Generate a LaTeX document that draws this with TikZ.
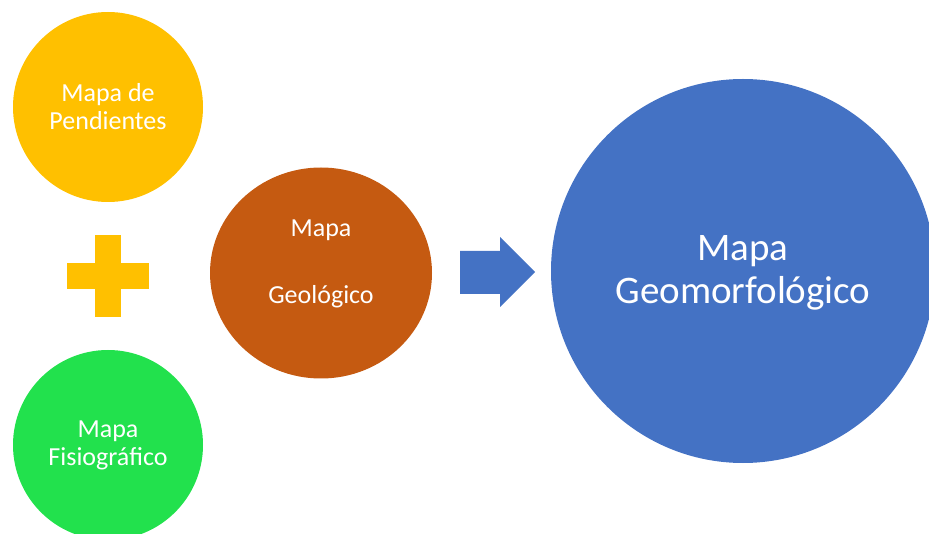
\documentclass[tikz,border=0pt]{standalone}
\usepackage{fontspec}
\setmainfont{Carlito}
\usetikzlibrary{shapes.geometric}
\definecolor{cyellow}{HTML}{FFC000}
\definecolor{cgreen}{HTML}{22E14D}
\definecolor{cbrown}{HTML}{C55A11}
\definecolor{cblue}{HTML}{4472C4}
\begin{document}
\begin{tikzpicture}[x=1pt,y=-1pt,
  bubble/.style={circle, inner sep=0pt, text=white, align=center},
  smalltext/.style={font=\fontsize{26}{28}\selectfont}]
\useasboundingbox (0,0) rectangle (929,534);
\node[bubble, smalltext, fill=cyellow, minimum size=190pt] (pend) at (108,107) {Mapa de\\Pendientes};
\fill[cyellow] (95,235) rectangle (121,317);
\fill[cyellow] (67,263) rectangle (149,289);
\node[bubble, smalltext, fill=cgreen, minimum size=190pt] (fisio) at (108,445) {Mapa\\Fisiográfico};
\node[ellipse, inner sep=0pt, fill=cbrown, minimum width=222pt, minimum height=211pt,
  label={[text=white, align=center, font=\fontsize{26}{33}\selectfont, yshift=9pt]center:Mapa\\[34pt]Geológico}] (geol) at (321,273) {};
\fill[cblue] (460,251) -- (500,251) -- (500,237) -- (535,272) -- (500,307) -- (500,294) -- (460,294) -- cycle;
\node[circle, inner sep=0pt, fill=cblue, minimum size=384pt,
  label={[text=white, align=center, font=\fontsize{39}{43}\selectfont, yshift=-2pt]center:Mapa\\Geomorfológico}] (geom) at (743,271) {};
\end{tikzpicture}
\end{document}
